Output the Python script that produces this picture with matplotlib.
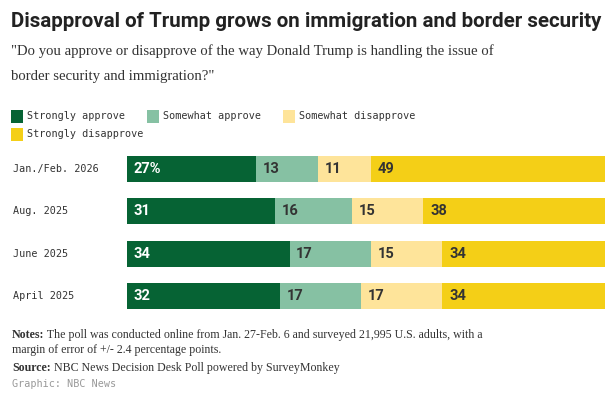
import matplotlib
matplotlib.use("Agg")
import matplotlib.pyplot as plt

categories = ["Jan./Feb. 2026", "Aug. 2025", "June 2025", "April 2025"]
series_names = ["Strongly approve", "Somewhat approve", "Somewhat disapprove", "Strongly disapprove"]
strongly_approve = [27, 31, 34, 32]
somewhat_approve = [13, 16, 17, 17]
somewhat_disapprove = [11, 15, 15, 17]
strongly_disapprove = [49, 38, 34, 34]
series = [strongly_approve, somewhat_approve, somewhat_disapprove, strongly_disapprove]
colors = ["#066334", "#86c1a3", "#fee49a", "#f4cf17"]
label_colors = ["white", "#333333", "#333333", "#333333"]

W, H = 615, 399
fig = plt.figure(figsize=(W / 100, H / 100), dpi=100)
fig.patch.set_facecolor("white")

def fx(x):
    return x / W

def fy(y):
    return 1 - y / H

COND = ["Roboto", "DejaVu Sans"]
SERIF = ["Liberation Serif", "DejaVu Serif"]
MONO = ["DejaVu Sans Mono"]

renderer = fig.canvas.get_renderer()

def fit_text(x, y, s, width, **kw):
    t = fig.text(fx(x), fy(y), s, **kw)
    bb = t.get_window_extent(renderer=renderer)
    fs = t.get_fontsize() * width / bb.width
    t.set_fontsize(fs)
    return t

# Title
fit_text(11, 27, "Disapproval of Trump grows on immigration and border security", 592,
         family=COND, weight="bold", fontsize=16, color="#222222", va="baseline")
# Subtitle
t1 = fit_text(11, 55, "\"Do you approve or disapprove of the way Donald Trump is handling the issue of",
              479, family=SERIF, fontsize=13, color="#333333", va="baseline")
fig.text(fx(11), fy(80), "border security and immigration?\"", family=SERIF,
         fontsize=t1.get_fontsize(), color="#333333", va="baseline")

# Legend
leg_pos = [(11, 116), (147, 116), (283, 116), (11, 134)]
for (lx, ly), name, c in zip(leg_pos, series_names, colors):
    fig.patches.append(plt.Rectangle((fx(lx), fy(ly + 6.5)), 12 / W, 13 / H,
                                     transform=fig.transFigure, color=c, lw=0))
    fig.text(fx(lx + 16), fy(ly), name, family=MONO, fontsize=7.3,
             color="#333333", va="center")

# Bars
ax = fig.add_axes([fx(127), fy(309), fx(605) - fx(127), fy(156) - fy(309)])
ypos = list(range(len(categories)))
left = [0] * len(categories)
for vals, c, lc in zip(series, colors, label_colors):
    ax.barh(ypos, vals, left=left, height=0.61, color=c, lw=0)
    for i, v in enumerate(vals):
        txt = f"{v}%" if (i == 0 and vals is strongly_approve) else f"{v}"
        ax.text(left[i] + 1.4, ypos[i], txt, family=COND, weight="bold",
                fontsize=10.5, color=lc, va="center", ha="left")
    left = [l + v for l, v in zip(left, vals)]
ax.set_xlim(0, 100)
ax.set_ylim(3.305, -0.305)
ax.axis("off")
for i, cat in enumerate(categories):
    ax.text(-114 / 478 * 100, ypos[i], cat, family=MONO, fontsize=7.3,
            color="#333333", va="center", ha="left")

# Notes
def rich_line(x, y, parts, fs, family):
    cx = x
    for s, w in parts:
        t = fig.text(fx(cx), fy(y), s, family=family, weight=w, fontsize=fs,
                     color="#333333", va="baseline")
        bb = t.get_window_extent(renderer=renderer)
        cx += bb.width

nfs = 8.6
rich_line(12, 338, [("Notes:", "bold"), (" The poll was conducted online from Jan. 27-Feb. 6 and surveyed 21,995 U.S. adults, with a", "normal")], nfs, SERIF)
rich_line(12, 353, [("margin of error of +/- 2.4 percentage points.", "normal")], nfs, SERIF)
rich_line(12, 371, [("Source:", "bold"), (" NBC News Decision Desk Poll powered by SurveyMonkey", "normal")], nfs, SERIF)
fig.text(fx(12), fy(387), "Graphic: NBC News", family=MONO, fontsize=7.3,
         color="#999999", va="baseline")

fig.savefig("out.png", dpi=100, facecolor="white")
